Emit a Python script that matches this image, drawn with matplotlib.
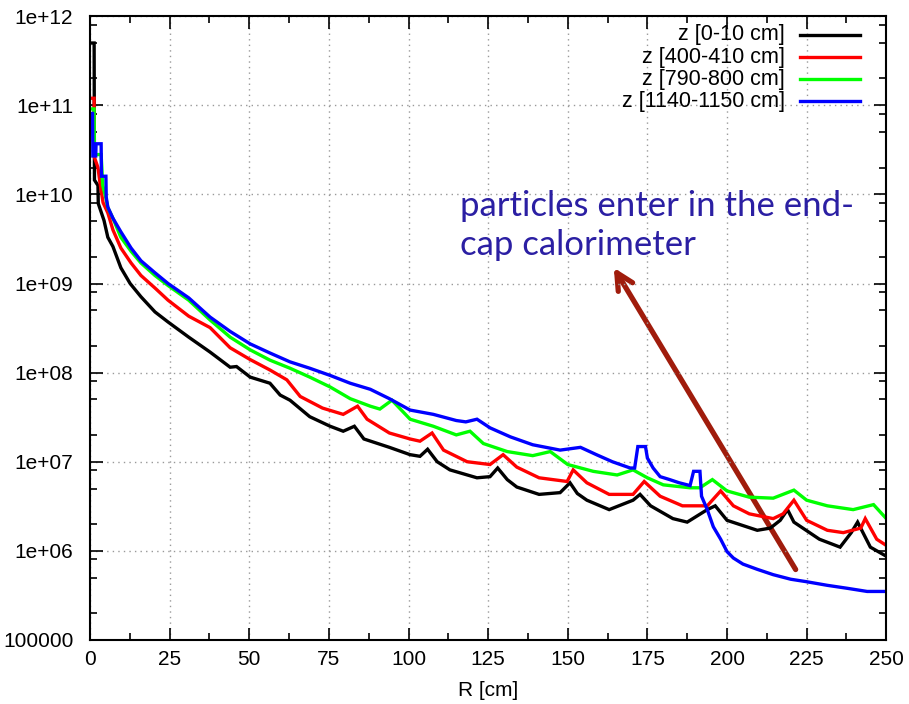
import numpy as np
import matplotlib
matplotlib.use('Agg')
import matplotlib.pyplot as plt
from matplotlib.patches import FancyArrowPatch
from matplotlib.ticker import FixedLocator, FuncFormatter, NullFormatter

# - - - - - - data - - - - - -
r_black = [0, 1.3, 1.4, 2.5, 2.6, 4.4, 5.6, 7.2, 9.7, 12.6, 16, 20.4, 24.5, 31, 37.7, 44, 46,
           50.3, 56.5, 59.7, 62.8, 69, 75.4, 79.5, 83, 86, 94, 100.5, 103.6, 106, 109, 113,
           121.5, 125.6, 128, 131, 134, 141, 147.6, 150.7, 153, 156, 163, 170.5, 172.7, 176,
           183, 187.5, 193.8, 196.3, 200, 209.5, 213.6, 216.7, 219, 221, 229, 235.5, 239,
           241, 245, 250]
v_black = [5e11, 5e11, 1.45e10, 1.26e10, 7.9e9, 5.1e9, 3.3e9, 2.6e9, 1.5e9, 1.0e9, 7.1e8,
           4.8e8, 3.7e8, 2.5e8, 1.7e8, 1.15e8, 1.17e8, 8.9e7, 7.6e7, 5.6e7, 4.9e7, 3.2e7,
           2.5e7, 2.2e7, 2.5e7, 1.8e7, 1.45e7, 1.2e7, 1.15e7, 1.38e7, 1.0e7, 8.1e6, 6.6e6,
           6.8e6, 8.5e6, 6.3e6, 5.2e6, 4.3e6, 4.5e6, 5.8e6, 4.4e6, 3.7e6, 2.9e6, 3.7e6,
           4.3e6, 3.2e6, 2.3e6, 2.1e6, 2.9e6, 3.2e6, 2.2e6, 1.7e6, 1.8e6, 2.2e6, 2.9e6,
           2.1e6, 1.35e6, 1.1e6, 1.6e6, 2.1e6, 1.1e6, 8.7e5]

r_red = [0, 1.3, 1.4, 2.5, 3.2, 4.1, 5.6, 7.2, 9.7, 12.9, 16, 20.4, 24.5, 31, 37.7, 44,
         50.3, 56.5, 61.8, 66, 73, 79.5, 84, 87, 94, 100.5, 103.6, 107.4, 111, 118.4, 125.6,
         129.7, 134, 141, 149.8, 151.7, 156, 163, 170.5, 174, 179, 186, 193.8, 198, 202,
         207, 214.5, 217.6, 221, 225, 231.5, 236.5, 242, 243.4, 247, 250]
v_red = [1.2e11, 1.2e11, 2.6e10, 2.0e10, 1.3e10, 8.1e9, 6.2e9, 4.0e9, 2.5e9, 1.7e9, 1.23e9,
         8.9e8, 6.5e8, 4.3e8, 3.2e8, 1.9e8, 1.4e8, 1.07e8, 8.3e7, 5.4e7, 4.0e7, 3.4e7,
         4.2e7, 3.0e7, 2.1e7, 1.8e7, 1.7e7, 2.1e7, 1.35e7, 1.0e7, 9.3e6, 1.2e7, 8.7e6,
         6.6e6, 6.0e6, 8.1e6, 5.8e6, 4.3e6, 4.3e6, 6.0e6, 4.1e6, 3.2e6, 3.2e6, 4.7e6,
         3.2e6, 2.6e6, 2.3e6, 2.6e6, 3.7e6, 2.2e6, 1.7e6, 1.6e6, 1.8e6, 2.3e6, 1.35e6,
         1.15e6]

r_green = [0, 1.3, 1.4, 3.5, 4.0, 5.0, 5.6, 7.2, 9.7, 12.9, 16, 20.4, 24.5, 31, 37.7, 44,
           50.3, 56.5, 62.8, 69, 75.4, 81.7, 88, 91, 94.8, 100.5, 107.8, 115, 119.3, 123.5,
           131, 139, 144.5, 150, 158, 165.5, 170.5, 175, 180, 188.4, 191.5, 195.4, 200,
           207, 214.5, 221, 225, 231.5, 239.6, 246, 250]
v_green = [9.1e10, 9.1e10, 2.8e10, 2.8e10, 1.26e10, 9.1e9, 7.1e9, 5.4e9, 3.3e9, 2.3e9,
           1.7e9, 1.23e9, 9.5e8, 6.5e8, 3.9e8, 2.5e8, 1.8e8, 1.38e8, 1.12e8, 8.9e7, 6.9e7,
           5.1e7, 4.2e7, 3.9e7, 4.9e7, 3.0e7, 2.5e7, 2.0e7, 2.2e7, 1.6e7, 1.3e7, 1.17e7,
           1.3e7, 9.3e6, 7.8e6, 7.1e6, 8.1e6, 6.6e6, 5.5e6, 5.1e6, 5.1e6, 6.3e6, 4.7e6,
           4.0e6, 3.9e6, 4.8e6, 3.7e6, 3.2e6, 2.9e6, 3.3e6, 2.3e6]

r_blue = [0, 0.8, 0.9, 1.8, 1.9, 3.5, 3.6, 5.0, 5.1, 5.6, 7.2, 9.7, 12.9, 16, 20.4, 24.5,
          31, 37.7, 44, 50.3, 56.5, 62.8, 69, 75.4, 81.7, 88, 94, 100.5, 107.8, 115, 118,
          121.5, 125.6, 132, 139, 147.6, 154, 159, 164, 169.6, 171, 172, 174.4, 175, 176.8,
          179, 182, 185, 188.4, 189.5, 191.5, 192, 193.8, 195.7, 198, 200, 202, 205, 209.5,
          214.5, 220, 225, 231.5, 237.7, 244, 250]
v_blue = [8.1e10, 8.1e10, 2.7e10, 2.7e10, 3.7e10, 3.7e10, 1.6e10, 1.6e10, 9.3e9, 7.2e9,
          5.4e9, 3.8e9, 2.5e9, 1.8e9, 1.32e9, 1.0e9, 6.9e8, 4.2e8, 2.9e8, 2.1e8, 1.66e8,
          1.32e8, 1.12e8, 9.3e7, 7.6e7, 6.5e7, 5.1e7, 3.8e7, 3.4e7, 2.9e7, 2.8e7, 3.0e7,
          2.4e7, 1.9e7, 1.55e7, 1.35e7, 1.45e7, 1.2e7, 1.0e7, 8.5e6, 8.5e6, 1.48e7, 1.48e7,
          1.1e7, 8.5e6, 6.8e6, 6.3e6, 5.8e6, 5.4e6, 7.8e6, 7.8e6, 4.1e6, 2.9e6, 1.86e6,
          1.35e6, 9.8e5, 8.3e5, 7.1e5, 6.2e5, 5.4e5, 4.8e5, 4.5e5, 4.1e5, 3.8e5, 3.5e5,
          3.5e5]

labels = ['z [0-10 cm]', 'z [400-410 cm]', 'z [790-800 cm]', 'z [1140-1150 cm]']
colors = ['#000000', '#ff0000', '#00ff00', '#0000ff']
x_ticks = [0, 25, 50, 75, 100, 125, 150, 175, 200, 225, 250]
y_ticks = [1e5, 1e6, 1e7, 1e8, 1e9, 1e10, 1e11, 1e12]

note_text = 'particles enter in the end-\ncap calorimeter'
arrow_head = (164, 1.6e9)
arrow_tail = (222, 5.8e5)

# - - - - - - figure - - - - - -
plt.rcParams['font.family'] = ['Liberation Sans', 'DejaVu Sans']
fig = plt.figure(figsize=(9.09, 7.04), dpi=100)
ax = fig.add_axes([0.099, 0.091, 0.876, 0.886])

series = [(r_black, v_black), (r_red, v_red), (r_green, v_green), (r_blue, v_blue)]
for (r, v), c in zip(series, colors):
    ax.plot(r, v, color=c, lw=2.4, solid_joinstyle='miter')

ax.set_yscale('log')
ax.set_xlim(0, 250)
ax.set_ylim(1e5, 1e12)

# gnuplot-like minor ticks: x midway, y at 2, 5, 8 of each decade
y_minor = [m * d for d in y_ticks[:-1] for m in (2, 5, 8)]
ax.xaxis.set_major_locator(FixedLocator(x_ticks))
ax.xaxis.set_minor_locator(FixedLocator(np.arange(12.5, 250, 25)))
ax.yaxis.set_major_locator(FixedLocator(y_ticks))
ax.yaxis.set_minor_locator(FixedLocator(y_minor))
ax.yaxis.set_major_formatter(FuncFormatter(lambda v, p: '%g' % v))
ax.yaxis.set_minor_formatter(NullFormatter())

ax.tick_params(which='both', direction='in', top=True, right=True, labelsize=15, width=1.2)
ax.tick_params(which='major', length=9, pad=7)
ax.tick_params(which='minor', length=5)
ax.tick_params(axis='y', pad=12)
ax.grid(True, which='major', color='#999999', linestyle=(0, (1, 3)), lw=1)
for s in ax.spines.values():
    s.set_linewidth(1.5)

ax.set_xlabel('R [cm]', fontsize=15, labelpad=9)

# legend gnuplot style: right aligned text, sample line on the right
leg_y = [0.970, 0.934, 0.899, 0.864]
for lab, c, y in zip(labels, colors, leg_y):
    ax.text(0.873, y, lab, ha='right', va='center', fontsize=15.5, transform=ax.transAxes)
    ax.plot([0.892, 0.967], [y, y], color=c, lw=2.4, transform=ax.transAxes)

ax.text(0.465, 0.722, note_text, ha='left', va='top', fontsize=25, color='#2b1fa3',
        family=['Lato', 'DejaVu Sans'], linespacing=1.28, transform=ax.transAxes)
arrow = FancyArrowPatch(arrow_tail, arrow_head, arrowstyle='->', lw=3.8,
                        color='#a01c0c', mutation_scale=30)
ax.add_patch(arrow)

fig.savefig('out.png', dpi=100)
